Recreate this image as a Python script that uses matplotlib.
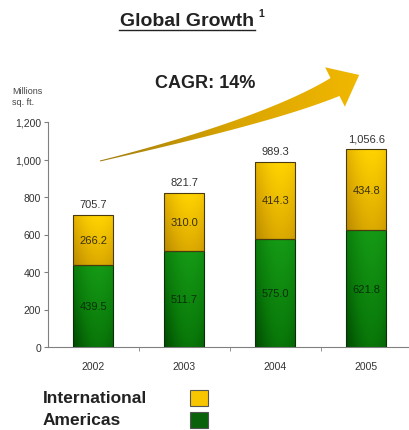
import numpy as np
import matplotlib.pyplot as plt
from matplotlib.colors import LinearSegmentedColormap
from matplotlib.patches import Polygon, Rectangle
from matplotlib.ticker import FuncFormatter, FixedLocator

plt.rcParams['font.family'] = ['Liberation Sans', 'DejaVu Sans']

years = ['2002', '2003', '2004', '2005']
americas = [439.5, 511.7, 575.0, 621.8]
international = [266.2, 310.0, 414.3, 434.8]

W, H = 409, 431
fig = plt.figure(figsize=(W / 100, H / 100), dpi=100)
fig.patch.set_facecolor('white')

# chart area in pixels: y axis at x=48, baseline at y=348, 1200 at y=123
ax = fig.add_axes([48 / W, (H - 348) / H, (W - 48) / W, 225 / H])
x = np.arange(len(years))
bw = 0.44

gold = LinearSegmentedColormap.from_list('gold', ['#b98a00', '#e0ae00', '#ffd400'])
green = LinearSegmentedColormap.from_list('green', ['#004a00', '#0a7a0a', '#159a15'])


def shaded_bar(ax, xc, bottom, height, cmap, edge):
    rect = Rectangle((xc - bw / 2, bottom), bw, height, facecolor='none',
                     edgecolor=edge, linewidth=0.8, zorder=3)
    ax.add_patch(rect)
    gx = np.linspace(0, 1, 40)
    gy = np.linspace(0, 1, 40)
    gxx, gyy = np.meshgrid(gx, gy)
    grad = 0.55 * gyy + 0.45 * np.sin(gxx * np.pi * 0.8)
    im = ax.imshow(grad, cmap=cmap, origin='lower', aspect='auto', vmin=0, vmax=1,
                   extent=[xc - bw / 2, xc + bw / 2, bottom, bottom + height], zorder=2)
    im.set_clip_path(rect)


for i in range(len(years)):
    shaded_bar(ax, x[i], 0, americas[i], green, '#0b2e0b')
    shaded_bar(ax, x[i], americas[i], international[i], gold, '#4a3a10')
    ax.text(x[i], americas[i] / 2, f'{americas[i]:.1f}', ha='center', va='center',
            fontsize=8, color='#093009', zorder=4)
    ax.text(x[i], americas[i] + international[i] / 2, f'{international[i]:.1f}',
            ha='center', va='center', fontsize=8, color='#3a3010', zorder=4)
    total = americas[i] + international[i]
    ax.annotate(f'{total:,.1f}', (x[i], total), xytext=(0, 4), textcoords='offset points',
                ha='center', va='bottom', fontsize=8, color='#333333')

ax.set_xlim(-0.5, 3.47)
ax.set_ylim(0, 1200)
ax.set_yticks(np.arange(0, 1201, 200))
ax.yaxis.set_major_formatter(FuncFormatter(lambda v, p: f'{v:,.0f}'))
ax.set_xticks(x)
ax.set_xticklabels(years)
ax.xaxis.set_minor_locator(FixedLocator([0.5, 1.5, 2.5]))
ax.tick_params(axis='x', which='major', length=0, pad=10, labelsize=7.5, labelcolor='#333333')
ax.tick_params(axis='x', which='minor', length=3, color='#808080')
ax.tick_params(axis='y', length=3, pad=2, labelsize=7.5, labelcolor='#333333', color='#808080')
for s in ['top', 'right']:
    ax.spines[s].set_visible(False)
for s in ['left', 'bottom']:
    ax.spines[s].set_color('#808080')

# overlay in pixel coordinates for the arrow, headings and legend
ov = fig.add_axes([0, 0, 1, 1], facecolor='none')
ov.set_xlim(0, W)
ov.set_ylim(H, 0)
ov.axis('off')

# curved growth arrow along a quadratic Bezier, widening toward the head
p0, p1, p2 = np.array([100, 162]), np.array([267, 122]), np.array([335, 88])
t = np.linspace(0, 1, 60)
pts = ((1 - t) ** 2)[:, None] * p0 + (2 * (1 - t) * t)[:, None] * p1 + (t ** 2)[:, None] * p2
d = 2 * (1 - t)[:, None] * (p1 - p0) + 2 * t[:, None] * (p2 - p1)
d = d / np.linalg.norm(d, axis=1)[:, None]
n = np.column_stack([-d[:, 1], d[:, 0]])
half = 0.5 + 9.5 * t ** 1.3
upper = pts - n * half[:, None]
lower = pts + n * half[:, None]
dn, nn = d[-1], n[-1]
tip = p2 + 27 * dn
head = [p2 - nn * 22, tip, p2 + nn * 22]
outline = np.vstack([upper, head, lower[::-1]])
arrow = Polygon(outline, closed=True, facecolor='none', edgecolor='none', zorder=3)
ov.add_patch(arrow)
ag = LinearSegmentedColormap.from_list('ag', ['#a07c10', '#d8a400', '#f2b800'])
grad = np.tile(np.linspace(0, 1, 100), (40, 1))
im = ov.imshow(grad, cmap=ag, extent=[95, 365, 170, 60], aspect='auto', zorder=2)
im.set_clip_path(arrow)
ov.set_xlim(0, W)
ov.set_ylim(H, 0)

ov.text(187, 22, 'Global Growth', ha='center', va='center', fontsize=14,
        fontweight='bold', color='#222222')
ov.plot([119, 255], [31, 31], color='#222222', lw=1)
ov.text(258, 14, '1', ha='left', va='center', fontsize=7.5, fontweight='bold', color='#222222')
ov.text(205, 83, 'CAGR: 14%', ha='center', va='center', fontsize=13,
        fontweight='bold', color='#222222')
ov.text(12, 97, 'Millions\nsq. ft.', ha='left', va='center', fontsize=6.5,
        color='#444444', linespacing=1.3)

ov.text(43, 399, 'International', ha='left', va='center', fontsize=12.5,
        fontweight='bold', color='#222222')
ov.text(43, 421, 'Americas', ha='left', va='center', fontsize=12.5,
        fontweight='bold', color='#222222')
ov.add_patch(Rectangle((190, 391), 18, 16, facecolor='#f7c600', edgecolor='#555555', lw=0.8))
ov.add_patch(Rectangle((190, 413), 18, 16, facecolor='#0a620a', edgecolor='#555555', lw=0.8))

fig.savefig('out.png', dpi=100)
